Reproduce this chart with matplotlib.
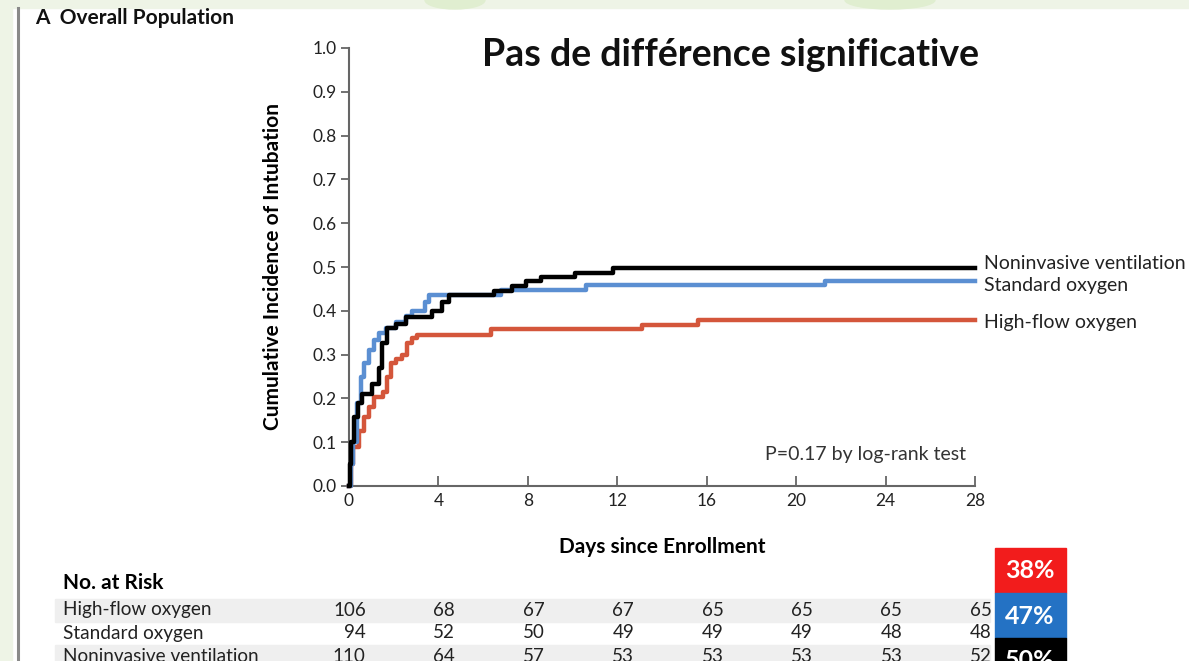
import matplotlib
matplotlib.use('Agg')
import matplotlib.pyplot as plt
import matplotlib.transforms as mtransforms
from matplotlib.patches import Rectangle, Ellipse
from matplotlib.lines import Line2D

# Cumulative incidence of intubation (step curves)
hfno_days = [0, 0.1, 0.2, 0.45, 0.67, 0.9, 1.12, 1.5, 1.71, 1.86, 2.08, 2.38, 2.6, 2.83, 3.05, 6.34, 13.1, 15.6, 28]
hfno_inc = [0, 0.05, 0.09, 0.126, 0.157, 0.18, 0.203, 0.215, 0.25, 0.28, 0.29, 0.30, 0.326, 0.337, 0.345, 0.358, 0.367, 0.378, 0.378]

std_days = [0, 0.08, 0.2, 0.37, 0.52, 0.67, 0.89, 1.12, 1.34, 1.64, 2.08, 2.53, 2.83, 3.42, 3.57, 6.8, 10.6, 21.3, 28]
std_inc = [0, 0.05, 0.1, 0.19, 0.25, 0.28, 0.31, 0.333, 0.35, 0.36, 0.375, 0.387, 0.40, 0.42, 0.437, 0.448, 0.458, 0.469, 0.469]

niv_days = [0, 0.05, 0.1, 0.22, 0.4, 0.6, 1.04, 1.34, 1.49, 1.71, 2.08, 2.53, 3.72, 4.17, 4.46, 6.5, 7.3, 7.9, 8.6, 10.1, 11.8, 28]
niv_inc = [0, 0.05, 0.1, 0.157, 0.19, 0.21, 0.234, 0.27, 0.326, 0.36, 0.37, 0.385, 0.40, 0.42, 0.435, 0.445, 0.457, 0.468, 0.477, 0.487, 0.498, 0.498]

groups = ['High-flow oxygen', 'Standard oxygen', 'Noninvasive ventilation']
colors = ['#d4563b', '#5b8fd2', '#000000']
final_pct = ['38%', '47%', '50%']
box_colors = ['#f21c1c', '#2472c4', '#000000']

risk_days = [0, 4, 8, 12, 16, 20, 24, 28]
risk_hfno = [106, 68, 67, 67, 65, 65, 65, 65]
risk_std = [94, 52, 50, 49, 49, 49, 48, 48]
risk_niv = [110, 64, 57, 53, 53, 53, 53, 52]

W, H = 1189, 661
sans = ['Lato', 'DejaVu Sans']

def fx(p):
    return p / W

def fy(p):
    return 1 - p / H

fig = plt.figure(figsize=(W / 100, H / 100), dpi=100)
fig.patch.set_facecolor('white')

# slide decoration: green strips and the panel rule
fig.patches.append(Rectangle((0, fy(8)), 1, 8 / H, transform=fig.transFigure, color='#eef4e6', zorder=0))
fig.patches.append(Rectangle((0, 0), fx(12), 1, transform=fig.transFigure, color='#eef4e6', zorder=0))
for cx, w in [(455, 60), (890, 90)]:
    fig.patches.append(Ellipse((fx(cx), fy(0)), fx(w), 18 / H, transform=fig.transFigure, color='#e0eed0', zorder=0))
fig.lines.append(Line2D([fx(18), fx(18)], [0, fy(8)], transform=fig.transFigure, color='#8a8a8a', lw=2.2))

ax = fig.add_axes([fx(349), fy(486), (975 - 349) / W, (486 - 48) / H])
for d, v, c, z in zip([hfno_days, std_days, niv_days], [hfno_inc, std_inc, niv_inc], colors, [2, 3, 4]):
    ax.step(d, v, where='post', color=c, lw=3.2, zorder=z, clip_on=False)

ax.set_xlim(0, 28)
ax.set_ylim(0, 1.0)
ax.set_xticks(risk_days)
ax.set_yticks([i / 10 for i in range(11)])
ax.set_yticklabels([f'{i / 10:.1f}' for i in range(11)])
for s in ['top', 'right']:
    ax.spines[s].set_visible(False)
for s in ['left', 'bottom']:
    ax.spines[s].set_color('#666666')
    ax.spines[s].set_linewidth(1.5)
ax.tick_params(axis='y', direction='out', length=6, width=1.3, color='#666666', pad=3, labelsize=12.5)
ax.tick_params(axis='x', direction='in', length=7, width=1.3, color='#666666', pad=5, labelsize=12.5)
for lab in ax.get_xticklabels() + ax.get_yticklabels():
    lab.set_family(sans)
    lab.set_color('#222222')

ax.set_ylabel('Cumulative Incidence of Intubation', family=sans, fontweight='bold', fontsize=15, labelpad=21)
ax.set_xlabel('Days since Enrollment', family=sans, fontweight='bold', fontsize=15, labelpad=20)

for name, y in zip(groups, [0.374, 0.457, 0.509]):
    ax.text(28.4, y, name, family=sans, fontsize=14, va='center', ha='left', color='#222222', clip_on=False)

ax.text(23.1, 0.071, 'P=0.17 by log-rank test', family=sans, fontsize=14, ha='center', va='center', color='#333333')

fig.text(fx(730), fy(55), 'Pas de différence significative', family=sans, fontweight='bold',
         fontsize=27, ha='center', va='center', color='#111111')
fig.text(fx(35), fy(18), 'A  Overall Population', family=sans, fontweight='bold', fontsize=15,
         ha='left', va='center', color='#111111')

# number at risk table
fig.text(fx(63), fy(583), 'No. at Risk', family=sans, fontweight='bold', fontsize=15, ha='left', va='center')
blend = mtransforms.blended_transform_factory(ax.transData, fig.transFigure)
rows = [risk_hfno, risk_std, risk_niv]
row_y = [610, 633, 656]
for i, (name, vals, y) in enumerate(zip(groups, rows, row_y)):
    if i != 1:
        fig.patches.append(Rectangle((fx(55), fy(y + 11.5)), fx(935), 23 / H, transform=fig.transFigure,
                                     color='#efefef', zorder=0))
    fig.text(fx(63), fy(y), name, family=sans, fontsize=13.7, ha='left', va='center', color='#222222')
    for d, n in zip(risk_days, vals):
        fig.text(d + 0.75, fy(y), str(n), transform=blend, family=sans, fontsize=13.5,
                 ha='right', va='center', color='#222222')

# final incidence boxes
for i, (p, c) in enumerate(zip(final_pct, box_colors)):
    top = 548 + 45 * i
    fig.patches.append(Rectangle((fx(995), fy(top + 45)), fx(71), 45 / H, transform=fig.transFigure,
                                 color=c, zorder=1))
    fig.text(fx(1030), fy(top + 23), p, family=sans, fontweight='bold', fontsize=18, color='white',
             ha='center', va='center', zorder=2)

fig.savefig('out.png', dpi=100)
